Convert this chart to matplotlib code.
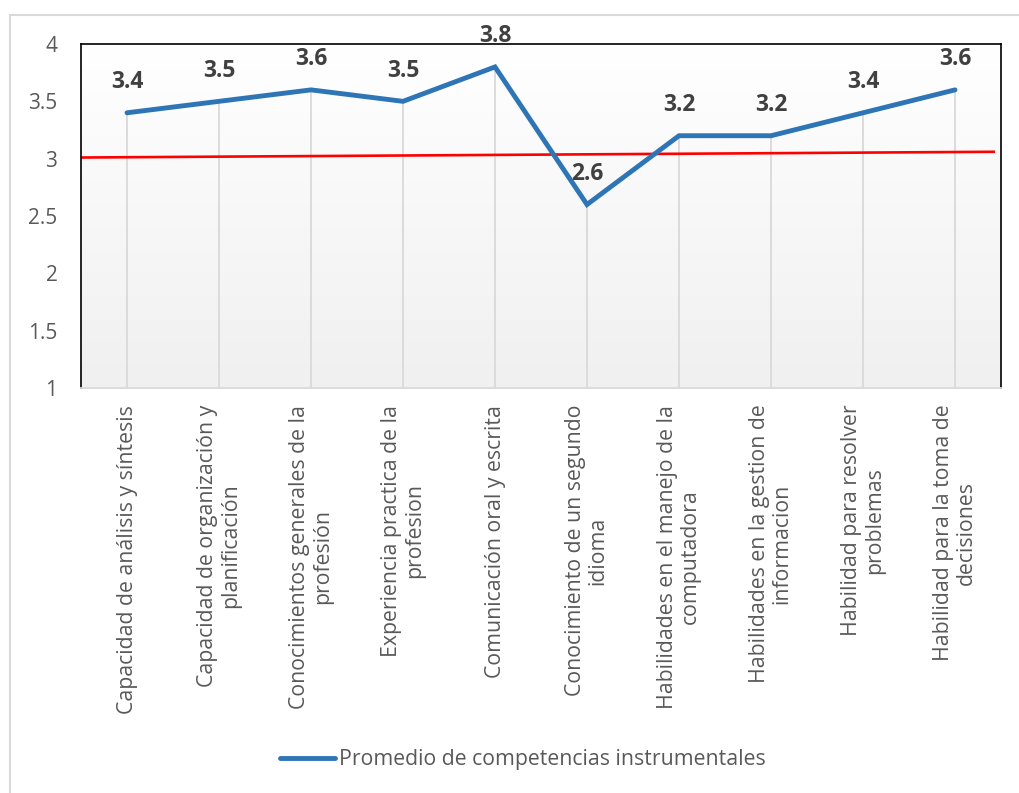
import matplotlib
matplotlib.use("Agg")
import matplotlib.pyplot as plt
import numpy as np
from matplotlib.patches import Rectangle

CATEGORIES = [
    "Capacidad de análisis y síntesis",
    "Capacidad de organización y\nplanificación",
    "Conocimientos generales de la\nprofesión",
    "Experiencia practica de la\nprofesion",
    "Comunicación oral y escrita",
    "Conocimiento de un segundo\nidioma",
    "Habilidades en el manejo de la\ncomputadora",
    "Habilidades en la gestion de\ninformacion",
    "Habilidad para resolver\nproblemas",
    "Habilidad para la toma de\ndecisiones",
]
PROMEDIO = [3.4, 3.5, 3.6, 3.5, 3.8, 2.6, 3.2, 3.2, 3.4, 3.6]
SERIES_LABEL = "Promedio de competencias instrumentales"

# reference line (x in category units, y in score units)
REF_X = [-0.5, 9.42]
REF_Y = [3.01, 3.06]

Y_TICKS = [1, 1.5, 2, 2.5, 3, 3.5, 4]
Y_TICK_LABELS = ["1", "1.5", "2", "2.5", "3", "3.5", "4"]

BLUE = "#2e75b6"
RED = "#ff0000"
TEXT = "#595959"
LABEL = "#404040"
LIGHT = "#d9d9d9"

plt.rcParams["font.family"] = ["Open Sans", "DejaVu Sans"]

fig = plt.figure(figsize=(10.19, 7.93), dpi=100)
fig.add_artist(Rectangle((10 / 1019, -0.1), 1.2, 1 - 15 / 793 + 0.1,
                         transform=fig.transFigure, facecolor="none",
                         edgecolor=LIGHT, linewidth=1.5))

ax = fig.add_axes([81 / 1019, 1 - 388 / 793, 920 / 1019, 344 / 793])
x = np.arange(len(CATEGORIES))
ax.set_xlim(-0.5, len(CATEGORIES) - 0.5)
ax.set_ylim(1, 4)

# plot-area fill: white at the top fading to light grey
grad = np.linspace(1.0, 0.0, 256).reshape(-1, 1)
ax.imshow(grad, extent=(-0.5, len(CATEGORIES) - 0.5, 1, 4), aspect="auto",
          cmap=matplotlib.colors.LinearSegmentedColormap.from_list(
              "bg", ["#f0f0f0", "#ffffff"]), zorder=0, origin="upper")

ax.vlines(x, 1, PROMEDIO, color=LIGHT, linewidth=1.3, zorder=1)
ax.plot(REF_X, REF_Y, color=RED, linewidth=1.9, zorder=2)
ax.plot(x, PROMEDIO, color=BLUE, linewidth=3.5, solid_capstyle="round",
        solid_joinstyle="miter", zorder=3, label=SERIES_LABEL)

for xi, v in zip(x, PROMEDIO):
    ax.annotate(f"{v:.1f}", (xi, v), xytext=(0, 22), textcoords="offset points",
                ha="center", va="center", fontsize=16.5, fontweight="bold",
                color=LABEL, zorder=5, annotation_clip=False)

ax.set_yticks(Y_TICKS)
ax.set_yticklabels(Y_TICK_LABELS)
ax.set_xticks(x)
ax.set_xticklabels(CATEGORIES, rotation=90, ha="center", va="top",
                   multialignment="center", linespacing=1.1)
ax.tick_params(axis="y", length=0, pad=17, labelsize=15, labelcolor=TEXT)
ax.tick_params(axis="x", length=0, pad=12, labelsize=15.3, labelcolor=TEXT)

for side in ("top", "left", "right"):
    ax.spines[side].set_color("black")
    ax.spines[side].set_linewidth(1.2)
ax.spines["bottom"].set_color(LIGHT)
ax.spines["bottom"].set_linewidth(1.3)

fig.legend(handles=ax.get_lines()[1:], labels=[SERIES_LABEL],
           loc="center", bbox_to_anchor=(523 / 1019, 1 - 760 / 793),
           frameon=False, fontsize=15.3, labelcolor=TEXT,
           handlelength=2.6, handletextpad=0.2)

fig.savefig("out.png", dpi=100, facecolor="white")
